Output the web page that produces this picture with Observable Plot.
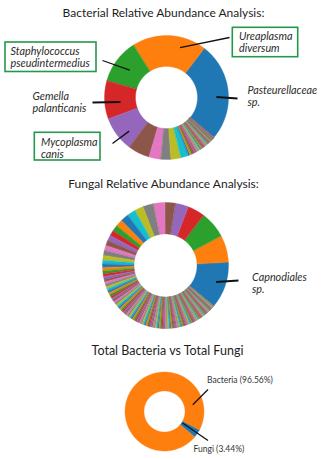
<!DOCTYPE html>
<html><head><meta charset="utf-8">
<script src="https://cdn.jsdelivr.net/npm/d3@7"></script>
<script src="https://cdn.jsdelivr.net/npm/@observablehq/plot@0.6"></script>
<style>body{margin:0;background:#fff}</style>
</head><body><div id="chart"></div>
<script>
// ---------- DATA ----------
const chartTitles = ["Bacterial Relative Abundance Analysis:", "Fungal Relative Abundance Analysis:", "Total Bacteria vs Total Fungi"];

// Bacterial relative abundance (%), in plotting order (largest first, then the long tail)
const bacteriaNames = ["Pasteurellaceae sp.", "Ureaplasma diversum", "Staphylococcus pseudintermedius", "Gemella palanticanis", "Mycoplasma canis"];
const bacteriaAbundance = [25.7, 19.4, 11.7, 10.0, 9.1, 5.7, 3.1, 2.6, 2.6, 2.0,
  0.45, 0.42, 0.40, 0.38, 0.36, 0.34, 0.32, 0.30, 0.29, 0.28,
  0.27, 0.26, 0.25, 0.24, 0.23, 0.22, 0.21, 0.20, 0.19, 0.18,
  0.17, 0.16, 0.15, 0.14, 0.13, 0.12, 0.11, 0.10, 0.10, 0.09,
  0.09, 0.08, 0.08, 0.07, 0.07, 0.06, 0.06, 0.05, 0.05, 0.05,
  0.04, 0.04, 0.04, 0.03, 0.03, 0.03, 0.03, 0.02, 0.02, 0.02,
  0.02, 0.02, 0.02, 0.01, 0.01, 0.01, 0.01, 0.01];

// Fungal relative abundance (%)
const fungalNames = ["Capnodiales sp."];
const fungalAbundance = [12.0, 6.92, 6.92, 4.39, 3.39, 2.69, 2.94, 2.72, 2.25, 2.17,
  2.08, 1.81, 1.53, 1.44, 1.39, 1.33, 1.33, 1.28, 1.19, 0.97,
  0.92, 0.83, 0.78, 0.72, 0.69, 0.67, 0.64,
  0.61, 0.58, 0.56, 0.56, 0.53, 0.53, 0.50, 0.50, 0.50, 0.47,
  0.47, 0.47, 0.44, 0.44, 0.44, 0.44, 0.42, 0.42, 0.42, 0.42,
  0.42, 0.42, 0.39, 0.39, 0.39, 0.39, 0.39, 0.39, 0.39, 0.36,
  0.36, 0.36, 0.36, 0.36, 0.36, 0.36, 0.36, 0.33, 0.33, 0.33,
  0.33, 0.33, 0.33, 0.33, 0.33, 0.33, 0.31, 0.31, 0.31, 0.31,
  0.31, 0.31, 0.31, 0.31, 0.31, 0.28, 0.28, 0.28, 0.28, 0.28,
  0.28, 0.28, 0.28, 0.28, 0.28, 0.25, 0.25, 0.25, 0.25, 0.25,
  0.25, 0.25, 0.25, 0.25, 0.22, 0.22, 0.22, 0.22, 0.22, 0.22,
  0.22, 0.22, 0.22, 0.19, 0.19, 0.19, 0.19, 0.19, 0.19, 0.19,
  0.19, 0.19, 0.17, 0.17, 0.17, 0.17, 0.17, 0.17, 0.17, 0.17,
  0.17, 0.14, 0.14, 0.14, 0.14, 0.14, 0.14, 0.14, 0.14, 0.14,
  0.14, 0.14, 0.11, 0.11, 0.06];

// Total bacteria vs total fungi (%)
const totalNames = ["Fungi", "Bacteria"];
const totalPercent = [3.44, 96.56];

// ---------- LAYOUT (pixels) ----------
const W = 322, H = 459;
const palette = d3.schemeCategory10;
const START = 130 * Math.PI / 180; // first wedge starts here, wedges run counter-clockwise
const donuts = [
  {key: "bac", values: bacteriaAbundance, cx: 166, cy: 97, R: 62, r: 31},
  {key: "fun", values: fungalAbundance, cx: 165, cy: 265, R: 63, r: 31.5},
  {key: "tot", values: totalPercent, cx: 164, cy: 411, R: 39.5, r: 20.5}
];
const titleLayout = [{x: 163, y: 13, size: 12}, {x: 163, y: 183.5, size: 12}, {x: 167, y: 350, size: 12.5}];

// annotation layout: slice index in donut, position along wedge (t) and across ring (rr), label-side end
const notes = [
  {d: 0, i: 0, label: bacteriaNames[0], t: 0.44, rr: 0.61, lx: 237, ly: 98, tx: 247, ty: 95.5, sw: 2, box: null},
  {d: 0, i: 1, label: bacteriaNames[1], t: 0.32, rr: 0.67, lx: 229, ly: 37, tx: 238.5, ty: 41.5, sw: 1.3, box: [232.3, 27.3, 297.7, 56.7]},
  {d: 0, i: 2, label: bacteriaNames[2], t: 0.5, rr: 0.48, lx: 102, ly: 60, tx: 10, ty: 57, sw: 1.3, box: [5, 42, 96, 71.5]},
  {d: 0, i: 3, label: bacteriaNames[3], t: 0.59, rr: 0.49, lx: 92, ly: 102, tx: 32, ty: 101.5, sw: 2, box: null},
  {d: 0, i: 4, label: bacteriaNames[4], t: 0.66, rr: 0.62, lx: 112, ly: 143, tx: 40.5, ty: 148, sw: 1.3, box: [34.3, 132.3, 100, 160]},
  {d: 1, i: 0, label: fungalNames[0], t: 0.51, rr: 0.69, lx: 238, ly: 280, tx: 251.5, ty: 282.5, sw: 2, box: null}
];
const totalNotes = [
  {d: 2, i: 1, label: `${totalNames[1]} (${totalPercent[1].toFixed(2)}%)`, t: 0.118, rr: 0.45, lx: 207.5, ly: 389, tx: 206.5, ty: 380},
  {d: 2, i: 0, label: `${totalNames[0]} (${totalPercent[0].toFixed(2)}%)`, t: 0.6, rr: 0.05, lx: 207.5, ly: 440, tx: 193, ty: 449}
];

// ---------- GEOMETRY FROM DATA ----------
const arcsByDonut = donuts.map(g =>
  d3.pie().sort(null).startAngle(START).endAngle(START - 2 * Math.PI)(g.values));

const pt = (g, rad, a) => ({x: g.cx + rad * Math.sin(a), y: g.cy - rad * Math.cos(a)});

const slicePoints = [];
donuts.forEach((g, di) => {
  arcsByDonut[di].forEach((arc, i) => {
    const a0 = arc.startAngle, a1 = arc.endAngle;
    const n = Math.max(2, Math.ceil(Math.abs(a1 - a0) / (Math.PI / 180)));
    const id = `${g.key}-${i}`;
    const color = palette[i % 10];
    for (let k = 0; k <= n; k++) slicePoints.push({id, color, ...pt(g, g.R, a0 + (a1 - a0) * k / n)});
    for (let k = n; k >= 0; k--) slicePoints.push({id, color, ...pt(g, g.r, a0 + (a1 - a0) * k / n)});
  });
});

function anchor(n) {
  const g = donuts[n.d], arc = arcsByDonut[n.d][n.i];
  const a = arc.startAngle + n.t * (arc.endAngle - arc.startAngle);
  return pt(g, g.r + n.rr * (g.R - g.r), a);
}
const links = [...notes, ...totalNotes].map(n => {
  const p = anchor(n);
  return {x1: p.x, y1: p.y, x2: n.lx, y2: n.ly, sw: n.sw ?? 1.3};
});
const boxes = notes.filter(n => n.box).map(n => ({x1: n.box[0], y1: n.box[1], x2: n.box[2], y2: n.box[3]}));
const labelTexts = notes.map(n => {
  const words = n.label.split(" ");
  return {x: n.tx, y: n.ty, text: words[0] + "\n" + words.slice(1).join(" ")};
});
const titles = chartTitles.map((t, i) => ({text: t, ...titleLayout[i]}));

// ---------- PLOT ----------
const chart = Plot.plot({
  width: W, height: H,
  margin: 0,
  x: {domain: [0, W], axis: null},
  y: {domain: [0, H], reverse: true, axis: null},
  color: {type: "identity"},
  style: {fontFamily: "Lato, 'Open Sans', 'DejaVu Sans', sans-serif", background: "white"},
  marks: [
    Plot.line(slicePoints, {x: "x", y: "y", z: "id", fill: "color", stroke: "color", strokeWidth: 0.35, curve: "linear-closed"}),
    Plot.rect(boxes, {x1: "x1", y1: "y1", x2: "x2", y2: "y2", fill: "white", stroke: "#23984a", strokeWidth: 1.6}),
    Plot.link(links, {x1: "x1", y1: "y1", x2: "x2", y2: "y2", stroke: "#111", strokeWidth: "sw"}),
    Plot.text(labelTexts, {x: "x", y: "y", text: "text", textAnchor: "start", lineAnchor: "middle", lineHeight: 1.08, fontSize: 10.8, fontStyle: "italic", fill: "#2b2b2b"}),
    Plot.text(totalNotes, {x: "tx", y: "ty", text: "label", textAnchor: "start", fontSize: 8.5, fill: "#333"}),
    Plot.text(titles, {x: "x", y: "y", text: "text", fontSize: d => d.size, fill: "#1e1e1e"})
  ]
});
document.getElementById("chart").appendChild(chart);
</script>
</body></html>
